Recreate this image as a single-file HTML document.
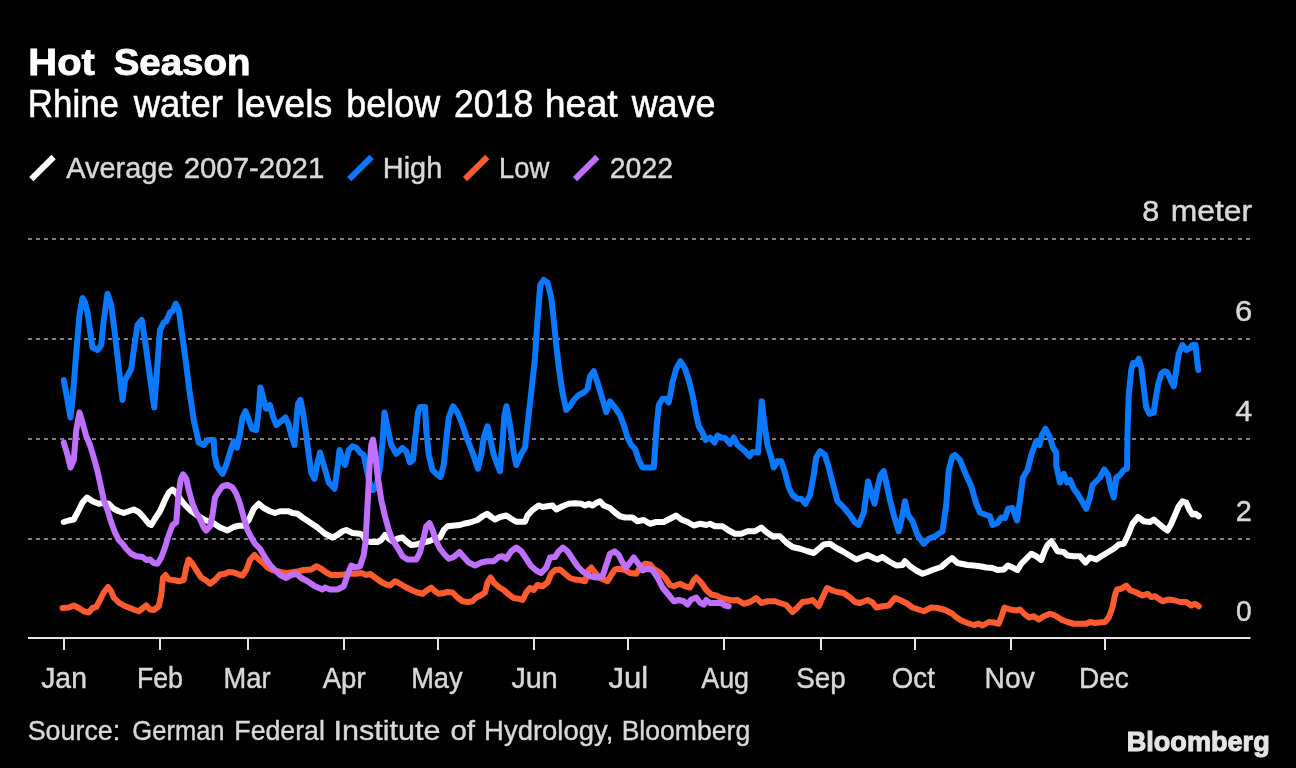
<!DOCTYPE html>
<html><head><meta charset="utf-8"><title>Hot Season</title>
<style>
html,body{margin:0;padding:0;background:#000;}
body{width:1296px;height:768px;overflow:hidden;}
svg{display:block;font-family:"Liberation Sans",sans-serif;will-change:transform;}
.t{font-weight:bold;font-size:37.5px;fill:#fff;stroke:#fff;stroke-width:0.9px;}.s{font-size:38.3px;fill:#fff;stroke:#fff;stroke-width:0.55px;}.lg{font-size:29.6px;fill:#d8d8d8;stroke:#d8d8d8;stroke-width:0.45px;}.ax{font-size:29.6px;fill:#d8d8d8;stroke:#d8d8d8;stroke-width:0.45px;}.src{font-size:28px;fill:#d8d8d8;stroke:#d8d8d8;stroke-width:0.4px;}.logo{font-weight:bold;font-size:28.5px;fill:#e4e4e4;stroke:#e4e4e4;stroke-width:1.1px;}
.grid line{stroke:#808080;stroke-width:2;stroke-dasharray:4 4;}
.tk rect{fill:#e6e6e6;}
.ln path{fill:none;stroke-width:6;stroke-linejoin:round;stroke-linecap:round;}
.sw line{stroke-width:6;}
</style></head><body>
<svg width="1296" height="768" viewBox="0 0 1296 768">
<rect width="1296" height="768" fill="#000"/>
<g class="sw">
<line x1="31.3" y1="179.2" x2="53.6" y2="157" stroke="#fff"/>
<line x1="349.2" y1="179.2" x2="371.5" y2="157" stroke="#0a78ff"/>
<line x1="465" y1="179.2" x2="487.3" y2="157" stroke="#ff5a30"/>
<line x1="575" y1="179.2" x2="597.3" y2="157" stroke="#c070ff"/>
</g>
<g class="grid"><line x1="28" x2="1234" y1="239" y2="239"/><line x1="1238" x2="1250" y1="239" y2="239"/><line x1="28" x2="1234" y1="339" y2="339"/><line x1="1238" x2="1250" y1="339" y2="339"/><line x1="28" x2="1234" y1="439" y2="439"/><line x1="1238" x2="1250" y1="439" y2="439"/><line x1="28" x2="1234" y1="539" y2="539"/><line x1="1238" x2="1250" y1="539" y2="539"/></g>
<g class="ln">
<path stroke="#fff" d="M63.75,522 L68.75,520.5 L73.75,519.5 L77.5,512.5 L82.5,502.5 L87,497.5 L92.5,501.25 L98.75,503.75 L103.75,503 L108.75,503.75 L113.75,508.75 L118.75,511.25 L123.75,513 L128.75,511.25 L133.75,509.5 L138.75,512 L143.75,517.5 L148.75,523.75 L151.25,525 L155,518.75 L160,511.25 L165,500 L168.75,492.5 L172.5,489.5 L176.25,493 L180,498.75 L185,505 L190,510 L197.5,515.5 L205,520 L212.5,522.5 L220,527.5 L227.5,530.5 L233.75,527 L238.75,525.75 L243.75,525.75 L248.75,520 L253.75,508.75 L258.75,503.75 L263.75,508 L270,511.25 L275,513 L280,511.25 L288.75,511.25 L292.5,513 L297.5,513.75 L302.5,517.5 L310,522.5 L317.5,527.5 L325,533.75 L332.5,537.5 L337.5,535 L342.5,531.25 L346.25,530 L352.5,533 L360,533.75 L362.5,535 L366.25,541.25 L371.25,542 L377.5,542 L381.25,540 L385,535 L388.75,538.75 L392.5,541.25 L397.5,538.75 L402.5,537.5 L406.25,541.25 L411.25,545 L416.25,544.5 L422.5,542.5 L428.75,541.25 L435,538.75 L440,537.5 L443.75,530 L447.5,526.25 L455,525.5 L460,525 L463.75,523.75 L470,522.5 L477.5,520 L482.5,516.25 L487,513.75 L491.25,517 L495,519.5 L500,517 L506.25,515.5 L511.25,518.75 L516.25,521.75 L525,521.75 L527.5,515.5 L532.5,510 L538.75,505.5 L542.5,507 L547.5,506.25 L552.5,505.5 L556.25,509.5 L562.5,506.25 L568.75,503.75 L575,503.25 L581.25,503.75 L585,505.5 L588.75,503.75 L592.5,505.5 L596.25,503 L600,501.25 L603.75,505.5 L610,508 L615,512.5 L620,516.25 L625,517.5 L632.5,517.5 L637.5,521.25 L643.75,520 L650,523.75 L656.25,522 L663.75,522 L670,518.75 L676.25,515.5 L681.25,519.5 L687.5,522 L693.75,525.5 L700,523.75 L706.25,525 L710,523.75 L715,526.25 L722.5,526.25 L728.75,530.5 L735,533.75 L741.25,533.75 L747.5,531.25 L755,531.25 L761.25,527.5 L766.25,532 L772.5,536.25 L780,536.25 L786.25,542.5 L792.5,547 L800,548.75 L807.5,551.25 L813.75,553 L818.75,548.75 L823.75,544.5 L830,543.75 L836.25,548 L842.5,551.25 L848.75,555 L856.25,559.5 L862.5,557 L867.5,555 L873.75,558 L877.5,559.5 L882.5,557 L888.75,561.25 L896.25,565.5 L902.5,565 L905,561.25 L910,566.25 L916.25,570.5 L922.5,573.75 L927.5,572 L933.75,569.5 L941.25,567 L946.25,562.5 L952,558 L957.5,563 L961.25,563.75 L967.5,565 L973.75,565.5 L980,566.25 L986.25,567.5 L992.5,568 L997.5,570 L1003.75,569.5 L1008,565.5 L1012.5,567.5 L1017.5,570 L1021.25,563.75 L1026.25,558.75 L1031.25,553.75 L1036.25,556.25 L1041.25,560 L1044.5,551.25 L1047.5,545 L1051.25,541.25 L1054.5,546.25 L1057.5,551.25 L1063.75,552 L1067.5,555.5 L1073.75,556.25 L1080,556.25 L1085.5,562.5 L1090,557.5 L1096.25,559.5 L1101.25,556.25 L1107.5,552.5 L1113.75,548.75 L1118.75,544.5 L1123.75,543.75 L1127.5,536.25 L1132.5,523.75 L1138,517 L1143.75,521.25 L1150,522 L1153.75,519.5 L1158.75,523.75 L1163.75,528 L1167.5,530.5 L1171.25,523.75 L1175,515 L1178.75,506.25 L1182.5,501.25 L1186.25,502.5 L1189.5,510 L1192.5,514.5 L1195.5,513.75 L1198.75,516.25"/>
<path stroke="#0a78ff" d="M63.75,380 L67,397.5 L70.5,417.5 L73,395 L76.25,352.5 L79.5,315 L82.5,298 L85,302.5 L87.5,312.5 L90,330 L92.5,347.5 L97.5,350 L101.25,345 L103.75,320 L107.5,293.75 L111.25,305 L115,335 L118.75,367.5 L122.5,400 L125,380 L128,375 L131.25,368.75 L134.5,345 L137.5,325 L141.75,320 L145,340 L150,377.5 L154.25,407.5 L157,370 L160,330 L163.75,322.5 L166.25,321.25 L170,312.5 L172.5,311.25 L175.75,303.75 L178.75,310 L182.5,337.5 L186.25,365 L190,395 L193.75,420 L198.75,442.5 L203.75,445 L207.5,440 L213.75,440 L214.5,455 L217,466.25 L222.5,473.75 L226.25,465 L230,452.5 L233.75,441.25 L237,447.5 L240,433.75 L242.5,417.5 L245.5,411.25 L248.75,420 L252,428.75 L256.25,430 L258.75,410 L260.5,387.5 L263.75,400 L266.25,408.75 L270,405 L272.5,415 L276.25,425 L281.25,421.25 L285.5,417.5 L288.75,425 L291.25,435 L294.5,445 L296.25,422.5 L298,403.75 L300.5,400 L303,412.5 L306.25,435 L308.75,455 L311.25,472.5 L314.5,478.75 L317.5,462.5 L320,452.5 L323.75,465 L328.75,482.5 L334.5,488.75 L337.5,467.5 L339.5,450 L342.5,458.75 L345,465 L348.75,450 L352.5,446.25 L356.25,447.5 L360,452.5 L363.75,455 L366.25,467.5 L369.5,482.5 L373,490 L376.25,487.5 L380,467.5 L382.5,442.5 L384.5,412.5 L387.5,427.5 L391.25,445 L396.25,453.75 L402.5,448 L406.25,451.25 L410,462.5 L413,460 L415.5,435 L418,412.5 L420,407 L425,407 L426.25,430 L428.75,455 L432.5,470 L436.25,473.75 L440.5,477 L443.75,465 L446.25,440 L448.75,417.5 L453,406.25 L457.5,412.5 L462.5,425 L467.5,440 L472.5,452.5 L478,468.75 L481.25,455 L483.75,437.5 L487.5,426.25 L490,437.5 L493.75,455 L497.5,465 L500,471.25 L502.5,442.5 L504.5,415 L506.5,406.25 L510,425 L513.75,452.5 L516.25,465 L521.25,453.75 L525,447.5 L527.5,425 L531.25,392.5 L535,357.5 L537.5,320 L540.25,285 L543.75,280 L547.5,282.5 L551.25,297.5 L553.75,320 L556.25,345 L558.75,367.5 L562.5,392.5 L566.25,410 L570,406.25 L573.75,400 L578.75,395 L583.75,392.5 L587.5,388.75 L590,376.25 L593.75,371.25 L597.5,382.5 L601.25,395 L606.25,412 L610,401.25 L615,407.5 L620,415 L623.75,425 L627.5,437.5 L631.25,445 L635,448.75 L638.75,460 L642.5,467.5 L647.5,467.5 L653.75,467.5 L655,450 L657,422.5 L658.75,405 L662.5,398.75 L666.25,398.75 L668.75,402.5 L671.25,390 L672.5,382.5 L676.25,368.75 L680.5,361.25 L685,368.75 L688.75,380 L692.5,395 L696.25,415 L698.75,426.25 L702.5,432.5 L705.5,440 L710,437.5 L714.5,442.5 L717.5,435.5 L721.25,437.5 L725,438 L730,443.75 L733.75,437.5 L737.5,445 L743.75,450 L749.5,456.25 L752.5,452 L758,452.5 L760,425 L761.75,401.25 L764.5,425 L767.5,445 L771.25,457.5 L773.75,467.5 L777.5,461.25 L781.25,461.25 L785,472.5 L788.75,487.5 L792.5,495 L797.5,498.75 L801.25,498.75 L805.5,503.75 L810,495 L813.75,475 L816.25,457.5 L820,451.25 L825,455 L828.75,467.5 L832.5,482.5 L837.5,501.25 L843.75,507.5 L850,515 L855,522.5 L858.75,525 L863.75,512.5 L866.25,495 L868,481.25 L871.25,492.5 L874.5,503.75 L877.5,487.5 L880.5,475 L883.75,471.25 L886.25,482.5 L890,500 L893.75,515 L898.75,531.25 L902,517.5 L905,501.25 L908,515 L912.5,521.25 L917.5,535 L923.75,543.75 L928.75,538.75 L935,536.25 L942.5,531.25 L946.25,505 L948.75,470 L952.5,456.25 L955,455 L960,460 L965,472.5 L971.25,486.25 L976.25,503.75 L980,512.5 L985,514.5 L990,516.25 L992.5,525 L997.5,523 L1001.25,517.5 L1005,518 L1008,508.75 L1012.5,508 L1017,520.5 L1020,500 L1023,477.5 L1027.5,470 L1031.25,455 L1036.25,441.25 L1039.5,445 L1042,435 L1045.5,428.75 L1050,437.5 L1053,447.5 L1056.25,452.5 L1056.25,465 L1060,482.5 L1063.75,473.75 L1067,482.5 L1070,480 L1073.75,488.75 L1077.5,493.75 L1081.25,500 L1086.25,508.75 L1090,497.5 L1092.5,485 L1096.25,481.25 L1100,477.5 L1104.25,469.5 L1108,475 L1111.25,490 L1113.75,497.5 L1116.25,477.5 L1120,475 L1123.75,470 L1127,468.75 L1127.5,432.5 L1128.75,395 L1131.25,370 L1133,363 L1136.25,363.75 L1138.75,358.75 L1141.25,367.5 L1143.75,387.5 L1146.25,407.5 L1149.5,413.75 L1153.75,412.5 L1155.5,400 L1158,385 L1161.25,373.75 L1164.5,371.25 L1167.5,372.5 L1170.5,380 L1173.75,386.25 L1176.25,370 L1178.75,353.75 L1182.5,345 L1186.25,350 L1190,348 L1192.5,345 L1195.5,345 L1196.75,357.5 L1198.25,370"/>
<path stroke="#ff5a30" d="M62.5,608 L68.75,607.5 L73.75,605.5 L78.75,608 L83.75,611.25 L88.75,612.5 L92.5,608 L96.25,607 L100,600 L103.75,592.5 L108,587 L111.25,591.25 L113.75,597.5 L118.75,602.5 L123.75,605.5 L128.75,607.5 L133.75,609.5 L138.75,611.25 L143,608 L146.25,605.5 L150,609.5 L153.75,610 L158.75,606.25 L161.25,595 L163,577.5 L165.5,575 L168.75,579.5 L173.75,580 L178.75,581.25 L183.75,580 L186.25,567.5 L188.75,559.5 L192.5,563.75 L196.25,570 L201.25,577.5 L206.25,580.5 L210,583.75 L215,580 L220,574.5 L225,573.75 L228.75,572 L233.75,572.5 L238.75,574.5 L242.5,575.5 L246.25,570 L250,560 L254.5,555 L258.75,559.5 L262.5,562.5 L267.5,567.5 L272.5,570 L277.5,571.25 L282.5,572.5 L287.5,573 L293.75,572 L298.75,571.25 L303.75,570 L311.25,569.5 L316.25,566.25 L321.25,568.75 L326.25,572.5 L331.25,575 L337.5,575 L343.75,574.5 L350,573.75 L356.25,573.75 L361.25,573 L366.25,575 L370,573.75 L375,577.5 L381.25,582 L386.25,584.5 L390,585.5 L395,581.25 L400,583.75 L406.25,587.5 L412.5,590.5 L417.5,592.5 L422.5,593.75 L427.5,590 L431.25,587.5 L435,591.25 L438.75,593.75 L443.75,593 L447.5,592 L452.5,592.5 L457.5,597.5 L462.5,601.25 L467.5,602 L472.5,601.25 L476.25,597.5 L481.25,595 L485,592.5 L487.5,582.5 L490.5,577.5 L493.75,582.5 L498.75,587 L503.75,590 L508.75,594.5 L513.75,598 L518.75,598.75 L522.5,600 L526.25,592.5 L530,588 L533.75,590 L537.5,585 L542.5,586.25 L547.5,582.5 L551.25,573.75 L555,570 L560,569.5 L565,573.75 L570,578 L575,579.5 L580,580 L585,581.25 L588.75,570 L591.25,567.5 L595,572.5 L600,578 L607.5,581.25 L611.25,575 L615,569.5 L620,568.75 L625,570 L630,573 L636.25,573.75 L640,567.5 L645,563.75 L650,564.5 L653.75,568.75 L660,572.5 L665,577.5 L670,585 L673.75,586.25 L680,583.75 L685,586.25 L690,587.5 L693.75,580 L696.25,577.5 L701.25,582.5 L706.25,590 L711.25,594.5 L716.25,595.5 L721.25,598 L727.5,599.5 L732.5,600.5 L737.5,600 L743.75,603.75 L750,602 L756.25,598 L761.25,603 L767.5,601.25 L775,601.25 L780,603 L786.25,605 L792.5,612 L797.5,607.5 L802.5,602 L808.75,601.25 L812.5,600 L818.75,606.25 L822.5,597.5 L827,588 L832.5,590.5 L837.5,592 L843.75,593 L850,597.5 L855,602 L860,603 L867.5,600 L872.5,602.5 L876.25,607.5 L882.5,606.25 L888.75,605.5 L895,598 L900,600 L906.25,603 L912.5,607.5 L918.75,609.5 L923.75,611.25 L931.25,607.5 L937.5,608 L945,610 L952.5,613.75 L955,616.25 L961.25,620.5 L967.5,623 L973.75,625 L978.75,623.75 L982.5,625.5 L988.75,622 L993.75,622.5 L998.75,623.75 L1002,615 L1004.5,607.5 L1010,609.5 L1016.25,610.5 L1020,609.5 L1025,614.5 L1028.75,617.5 L1033.75,616.25 L1038.75,619.5 L1043.75,616.25 L1050,613.75 L1055,615.5 L1061.25,619.5 L1067.5,622 L1073.75,623.75 L1080,623.75 L1086.25,623.75 L1090,622 L1095,623 L1098.75,622.5 L1105,622 L1108.75,617.5 L1112.5,607.5 L1115,595 L1117,589.5 L1121.25,588.75 L1126.25,585.5 L1130,590 L1136.25,592.5 L1142.5,595.5 L1147.5,593.75 L1151.25,597 L1155,596.25 L1162.5,601.25 L1168.75,599.5 L1175,600.5 L1180,602 L1186.25,602 L1191.25,605.5 L1195,603.75 L1198.75,606.25"/>
<path stroke="#c070ff" d="M63.75,442.5 L67.5,455 L70.5,467.5 L73.75,460 L76.25,430 L79.5,412.5 L82.5,422.5 L86.25,436.25 L90,445 L93.75,457.5 L97.5,471.25 L100,482.5 L103.75,500 L107.5,510 L111.25,522.5 L115,532.5 L118.75,540 L122.5,543.75 L126.25,548.75 L131.25,553.75 L136.25,556.25 L142.5,557 L146.25,560 L150,559.5 L153.75,563 L157.5,563.75 L161.25,557.5 L165,547.5 L168.75,535 L172.5,525 L176.25,522.5 L178,500 L180.5,480 L183,474.25 L186.25,478.75 L188.75,490 L192.5,503.75 L196.25,512.5 L200,518.75 L203.75,527.5 L206.25,530.5 L210,526.25 L212.5,515 L215,497.5 L218.75,491.25 L222.5,486.25 L227.5,485 L232.5,487.5 L236.25,493.75 L240,503.75 L243.75,517.5 L247.5,530 L251.25,537.5 L255,543.75 L260,548.75 L265,557.5 L270,565 L275,570 L280,575 L286.25,578 L291.25,575 L296.25,573.75 L301.25,578 L307.5,581.25 L315,586.25 L322.5,589.5 L325,587.5 L330,589.5 L337.5,589.5 L343.75,586.25 L347.5,575 L351.25,565.5 L355,567.5 L360,566.25 L363.75,555 L365.5,542.5 L367.5,505 L369.5,467.5 L371.25,445 L373,439.5 L375,452.5 L377.5,475 L381.25,500 L385,516.25 L388.75,530 L392.5,540 L397.5,547.5 L402.5,556.25 L407.5,559.5 L416.25,559.5 L420,552.5 L423.75,537.5 L426.25,526.25 L429.5,523 L432.5,530 L436.25,541.25 L440,548.75 L445,555 L448.75,558.75 L453.75,557 L459.5,552 L463.75,557 L468.75,562.5 L475,565.5 L481.25,562.5 L487.5,561.25 L493.75,561.25 L498.75,557 L502.5,556.25 L506.25,558.75 L511.25,551.25 L516.25,547.5 L521.25,551.25 L526.25,558.75 L531.25,566.25 L536.25,570.5 L541.25,573 L546.25,567.5 L550,557.5 L555,557 L558.75,551.25 L563,547.5 L567.5,551.25 L572.5,558.75 L577.5,566.25 L582.5,571.25 L590,576.25 L596.25,577.5 L602.5,576.25 L606.25,565 L610,553.75 L614.5,551.25 L618.75,555 L622.5,562.5 L626.25,567.5 L630,562.5 L633.75,557.5 L637.5,562.5 L642.5,570.5 L647.5,568.75 L652.5,570 L657.5,577.5 L662.5,587.5 L668.75,595 L673.75,601.25 L678.75,600 L683.75,601.25 L687.5,604.5 L691.25,599.5 L696.25,597.5 L700,602.5 L703.75,604.5 L706.25,600 L710,603 L715,603 L721.25,603 L725,605.5 L728.75,606.25"/>
</g>
<rect x="28" y="637" width="1222.5" height="2" fill="#e6e6e6"/>
<g class="tk"><rect x="63" y="638" width="2" height="12"/><rect x="159" y="638" width="2" height="12"/><rect x="247" y="638" width="2" height="12"/><rect x="343" y="638" width="2" height="12"/><rect x="437" y="638" width="2" height="12"/><rect x="533" y="638" width="2" height="12"/><rect x="627" y="638" width="2" height="12"/><rect x="723" y="638" width="2" height="12"/><rect x="820" y="638" width="2" height="12"/><rect x="914" y="638" width="2" height="12"/><rect x="1010" y="638" width="2" height="12"/><rect x="1104" y="638" width="2" height="12"/></g>
<text class="t" x="28.37" y="75.4" textLength="66.43" lengthAdjust="spacingAndGlyphs">Hot</text>
<text class="t" x="113.75" y="75.4" textLength="136.67" lengthAdjust="spacingAndGlyphs">Season</text>
<text class="s" x="27.81" y="117.4" textLength="91.17" lengthAdjust="spacingAndGlyphs">Rhine</text>
<text class="s" x="133.63" y="117.4" textLength="89.21" lengthAdjust="spacingAndGlyphs">water</text>
<text class="s" x="236.29" y="117.4" textLength="96.09" lengthAdjust="spacingAndGlyphs">levels</text>
<text class="s" x="346.34" y="117.4" textLength="93.84" lengthAdjust="spacingAndGlyphs">below</text>
<text class="s" x="453.98" y="117.4" textLength="79.47" lengthAdjust="spacingAndGlyphs">2018</text>
<text class="s" x="544.74" y="117.4" textLength="72.92" lengthAdjust="spacingAndGlyphs">heat</text>
<text class="s" x="631.63" y="117.4" textLength="83.9" lengthAdjust="spacingAndGlyphs">wave</text>
<text class="lg" x="66.28" y="177.8" textLength="107.28" lengthAdjust="spacingAndGlyphs">Average</text>
<text class="lg" x="183.65" y="177.8" textLength="140.65" lengthAdjust="spacingAndGlyphs">2007-2021</text>
<text class="lg" x="382.84" y="177.8" textLength="59.36" lengthAdjust="spacingAndGlyphs">High</text>
<text class="lg" x="498.95" y="177.8" textLength="50.29" lengthAdjust="spacingAndGlyphs">Low</text>
<text class="lg" x="609.8" y="177.8" textLength="63.2" lengthAdjust="spacingAndGlyphs">2022</text>
<text class="ax" x="1142.17" y="220.5" textLength="17.03" lengthAdjust="spacingAndGlyphs">8</text>
<text class="ax" x="1170.81" y="220.5" textLength="81.32" lengthAdjust="spacingAndGlyphs">meter</text>
<text class="src" x="27.65" y="739.5" textLength="92.58" lengthAdjust="spacingAndGlyphs">Source:</text>
<text class="src" x="132.34" y="739.5" textLength="92.25" lengthAdjust="spacingAndGlyphs">German</text>
<text class="src" x="234.34" y="739.5" textLength="90.56" lengthAdjust="spacingAndGlyphs">Federal</text>
<text class="src" x="333.54" y="739.5" textLength="107" lengthAdjust="spacingAndGlyphs">Institute</text>
<text class="src" x="450.4" y="739.5" textLength="24.56" lengthAdjust="spacingAndGlyphs">of</text>
<text class="src" x="484.08" y="739.5" textLength="129.2" lengthAdjust="spacingAndGlyphs">Hydrology,</text>
<text class="src" x="621.65" y="739.5" textLength="128.57" lengthAdjust="spacingAndGlyphs">Bloomberg</text>
<text class="logo" x="1126.76" y="750.6" textLength="142.93" lengthAdjust="spacingAndGlyphs">Bloomberg</text>
<text class="ax" x="41.2" y="687.7" textLength="45.72" lengthAdjust="spacingAndGlyphs">Jan</text>
<text class="ax" x="136.89" y="687.7" textLength="46.13" lengthAdjust="spacingAndGlyphs">Feb</text>
<text class="ax" x="223.56" y="687.7" textLength="46.97" lengthAdjust="spacingAndGlyphs">Mar</text>
<text class="ax" x="322.78" y="687.7" textLength="42.8" lengthAdjust="spacingAndGlyphs">Apr</text>
<text class="ax" x="411.16" y="687.7" textLength="51.51" lengthAdjust="spacingAndGlyphs">May</text>
<text class="ax" x="511.5" y="687.7" textLength="46.24" lengthAdjust="spacingAndGlyphs">Jun</text>
<text class="ax" x="608.56" y="687.7" textLength="39.73" lengthAdjust="spacingAndGlyphs">Jul</text>
<text class="ax" x="701.19" y="687.7" textLength="47.89" lengthAdjust="spacingAndGlyphs">Aug</text>
<text class="ax" x="796.2" y="687.7" textLength="49.45" lengthAdjust="spacingAndGlyphs">Sep</text>
<text class="ax" x="891.83" y="687.7" textLength="43.09" lengthAdjust="spacingAndGlyphs">Oct</text>
<text class="ax" x="984.59" y="687.7" textLength="50.18" lengthAdjust="spacingAndGlyphs">Nov</text>
<text class="ax" x="1079" y="687.7" textLength="49.82" lengthAdjust="spacingAndGlyphs">Dec</text>
<text class="ax" x="1234.93" y="320.6" textLength="17.27" lengthAdjust="spacingAndGlyphs">6</text>
<text class="ax" x="1235.39" y="420.6" textLength="16.94" lengthAdjust="spacingAndGlyphs">4</text>
<text class="ax" x="1235.78" y="520.6" textLength="16.06" lengthAdjust="spacingAndGlyphs">2</text>
<text class="ax" x="1235.93" y="620.6" textLength="15.67" lengthAdjust="spacingAndGlyphs">0</text>
</svg>
</body></html>
